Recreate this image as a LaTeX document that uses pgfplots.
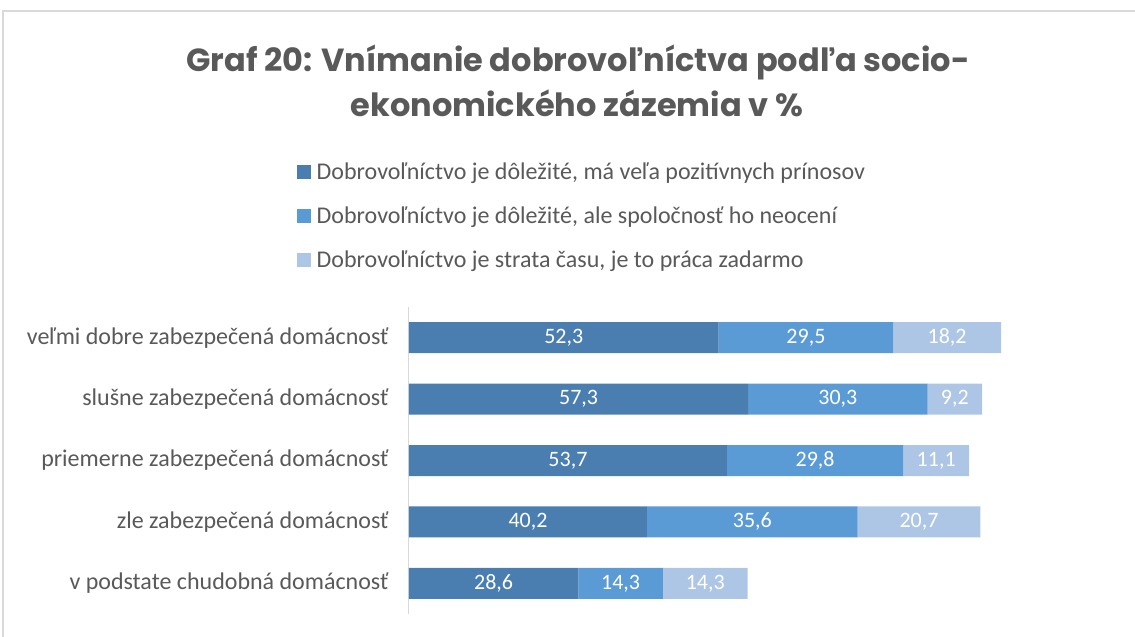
\documentclass[border=0pt]{standalone}
\usepackage{fontspec}
\setmainfont{Carlito}
\newfontfamily\titlefont{Poppins}
\usepackage{pgfplots}
\usepackage{pgfplotstable}
\pgfplotsset{compat=1.18}
\definecolor{txt}{HTML}{595959}
\definecolor{cA}{HTML}{4A7EB0}
\definecolor{cB}{HTML}{5B9BD5}
\definecolor{cC}{HTML}{AEC6E6}
\definecolor{frm}{HTML}{D9D9D9}
\pgfplotstableread{
y a b c
0 52.3 29.5 18.2
1 57.3 30.3 9.2
2 53.7 29.8 11.1
3 40.2 35.6 20.7
4 28.6 14.3 14.3
}\data
\begin{document}
\begin{tikzpicture}[x=1pt,y=1pt]
\useasboundingbox (0,0) rectangle (1135,637);
\draw[frm,line width=1.5pt] (3,0) -- (3,626) -- (1135,626);
\node[font=\titlefont\bfseries\fontsize{32}{38}\selectfont,text=txt] at (578,575) {Graf 20: Vnímanie dobrovoľníctva podľa socio-};
\node[font=\titlefont\bfseries\fontsize{32}{38}\selectfont,text=txt] at (577,534) {ekonomického zázemia v \%};
\begin{axis}[
  at={(409pt,23pt)}, anchor=south west,
  scale only axis, width=592pt, height=307pt,
  xbar stacked, bar width=31pt,
  xmin=0, xmax=100, ymin=-0.5, ymax=4.5, y dir=reverse,
  axis x line=none, axis y line*=left,
  y axis line style={frm, line width=1pt},
  ytick={0,1,2,3,4},
  yticklabels={veľmi dobre zabezpečená domácnosť, slušne zabezpečená domácnosť, priemerne zabezpečená domácnosť, zle zabezpečená domácnosť, v podstate chudobná domácnosť},
  yticklabel style={font=\fontsize{24}{28}\selectfont, text=txt, xshift=-17pt},
  ytick style={draw=none}, major tick length=0pt,
  /pgf/number format/assume math mode=true,
  point meta=explicit,
  nodes near coords={\pgfmathprintnumber[use comma,fixed,fixed zerofill,precision=1,assume math mode=true]{\pgfplotspointmeta}},
  every node near coord/.style={anchor=center, text=white, font=\fontsize{22}{26}\selectfont},
  legend style={at={(-0.19,1.478)}, anchor=north west, draw=none, fill=none, font=\fontsize{24}{28}\selectfont, text=txt, row sep=22pt, inner sep=0pt, legend cell align=left, nodes={inner xsep=6pt}},
  legend image code/.code={\fill[#1,draw=none] (0pt,-7pt) rectangle (14pt,7pt);},
]
\addplot[fill=cA, draw=none] table[x=a, y=y, meta=a]\data;
\addplot[fill=cB, draw=none] table[x=b, y=y, meta=b]\data;
\addplot[fill=cC, draw=none] table[x=c, y=y, meta=c]\data;
\legend{{Dobrovoľníctvo je dôležité, má veľa pozitívnych prínosov},{Dobrovoľníctvo je dôležité, ale spoločnosť ho neocení},{Dobrovoľníctvo je strata času, je to práca zadarmo}}
\end{axis}
\end{tikzpicture}
\end{document}
